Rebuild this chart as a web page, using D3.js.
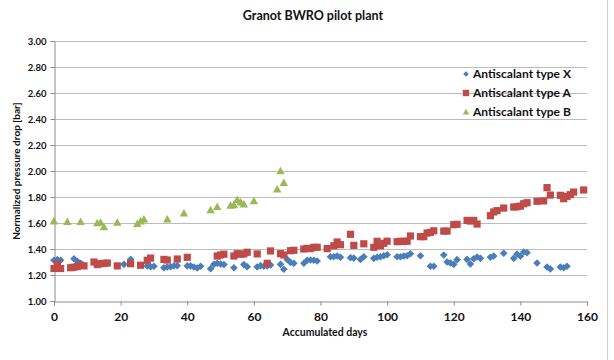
<!DOCTYPE html>
<html><head><meta charset="utf-8">
<script src="https://cdn.jsdelivr.net/npm/d3@7"></script>
<style>
html,body{margin:0;padding:0;background:#fff;}
svg text{font-family:Lato,"Open Sans",sans-serif;font-weight:bold;fill:#111;}
</style></head>
<body><svg id="c" width="614" height="360"></svg>
<script>
const titleText = "Granot BWRO pilot plant";
const xTitle = "Accumulated days";
const yTitle = "Normalized pressure drop [bar]";
const xTicks = [0,20,40,60,80,100,120,140,160];
const yTicks = [1.0,1.2,1.4,1.6,1.8,2.0,2.2,2.4,2.6,2.8,3.0];
const seriesNames = ["Antiscalant type X","Antiscalant type A","Antiscalant type B"];
const seriesColors = ["#4A7EBB","#BE4B48","#98B954"];

const typeX = [[0,1.313],[1,1.318],[2,1.313],[6,1.325],[7,1.305],[8,1.29],[21,1.282],[23,1.32],[28,1.27],[29,1.264],[30,1.267],
[33,1.256],[34,1.262],[35,1.264],[36,1.27],[37,1.272],[40,1.27],[41,1.27],[42,1.262],[43,1.254],[44,1.267],[47,1.248],[48,1.282],
[49,1.29],[50,1.285],[51,1.28],[54,1.256],[57,1.28],[58,1.264],[61,1.262],[62,1.272],[63,1.267],[64,1.27],[65,1.277],[68,1.282],
[69,1.244],[70,1.32],[71,1.297],[72,1.29],[75,1.29],[76,1.313],[77,1.315],[78,1.313],[79,1.308],[83,1.34],[84,1.34],[85,1.346],
[86,1.336],[89,1.333],[90,1.33],[92,1.32],[93,1.34],[96,1.328],[97,1.336],[98,1.34],[99,1.348],[100,1.356],[103,1.34],[104,1.34],
[105,1.346],[106,1.348],[107,1.364],[110,1.348],[113,1.267],[114,1.267],[117,1.354],[118,1.30],[119,1.292],[120,1.282],[121,1.318],
[124,1.32],[125,1.285],[126,1.325],[127,1.338],[128,1.328],[131,1.336],[132,1.346],[135,1.367],[138,1.328],[139,1.362],[140,1.344],
[141,1.377],[142,1.372],[145,1.292],[148,1.262],[149,1.246],[152,1.262],[153,1.256],[154,1.267]];

const typeA = [[0,1.25],[1,1.285],[2,1.25],[5,1.256],[6,1.26],[7,1.265],[8,1.275],[9,1.27],[12,1.30],[13,1.28],[14,1.287],[15,1.29],
[16,1.292],[19,1.27],[23,1.287],[26,1.275],[28,1.313],[29,1.33],[33,1.32],[34,1.315],[37,1.323],[40,1.336],[49,1.346],[50,1.354],
[51,1.36],[54,1.346],[55,1.364],[56,1.36],[57,1.362],[58,1.375],[61,1.362],[64,1.29],[65,1.385],[68,1.364],[69,1.354],[71,1.387],
[72,1.39],[75,1.40],[76,1.405],[77,1.403],[78,1.413],[79,1.413],[82,1.403],[84,1.425],[85,1.454],[86,1.433],[89,1.513],[90,1.428],
[93,1.44],[96,1.413],[97,1.459],[98,1.425],[99,1.444],[100,1.46],[103,1.456],[104,1.459],[105,1.459],[106,1.46],[107,1.50],[110,1.495],
[111,1.495],[112,1.523],[113,1.528],[114,1.54],[117,1.538],[118,1.538],[120,1.587],[121,1.59],[124,1.62],[125,1.615],[126,1.62],
[127,1.592],[131,1.656],[132,1.685],[133,1.695],[135,1.715],[138,1.723],[139,1.725],[140,1.73],[141,1.748],[142,1.756],[145,1.767],
[147,1.77],[148,1.872],[149,1.815],[152,1.813],[153,1.787],[154,1.805],[155,1.818],[156,1.838],[159,1.854]];

const typeB = [[0,1.615],[4,1.61],[8,1.61],[13,1.60],[14,1.605],[15,1.57],[19,1.605],[25,1.595],[26,1.615],[27,1.63],[34,1.63],
[39,1.675],[47,1.70],[49,1.725],[53,1.735],[54,1.74],[55,1.78],[56,1.76],[57,1.745],[60,1.77],[67,1.86],[68,2.00],[69,1.91]];

const svg = d3.select("#c");
const L = 54, R = 587, T = 41, B = 301;
const x = d3.scaleLinear().domain([0,160]).range([L,R]);
const y = d3.scaleLinear().domain([1,3]).range([B,T]);

// chart border right
svg.append("line").attr("x1",607.5).attr("x2",607.5).attr("y1",0).attr("y2",360).attr("stroke","#d0d0d0");

// gridlines
svg.append("g").selectAll("line").data(yTicks.filter(d=>d>1)).join("line")
  .attr("x1",L).attr("x2",R).attr("y1",d=>Math.round(y(d))+0.5).attr("y2",d=>Math.round(y(d))+0.5)
  .attr("stroke","#bcbcbc").attr("stroke-width",1);

// axes
const xAxis = d3.axisBottom(x).tickValues(xTicks).tickSize(4).tickFormat(d3.format("d"));
const gx = svg.append("g").attr("transform",`translate(0,${B+0.5})`).call(xAxis);
gx.select(".domain").attr("stroke","#8c8c8c");
gx.selectAll(".tick line").attr("stroke","#8c8c8c");
gx.selectAll("text").attr("font-size","12px").attr("dy","1.05em").attr("fill","#111");

const yAxis = d3.axisLeft(y).tickValues(yTicks).tickSize(4).tickFormat(d3.format(".2f"));
const gy = svg.append("g").attr("transform",`translate(${L+0.5},0)`).call(yAxis);
gy.select(".domain").attr("stroke","#8c8c8c");
gy.selectAll(".tick line").attr("stroke","#8c8c8c");
gy.selectAll("text").attr("font-size","9.5px").attr("x",-8).attr("fill","#111");

// titles
svg.append("text").attr("x",313).attr("y",20).attr("text-anchor","middle").attr("font-size","12.5px").text(titleText);
svg.append("text").attr("x",325).attr("y",336).attr("text-anchor","middle").attr("font-size","10.5px").text(xTitle);
svg.append("text").attr("transform","translate(20,171) rotate(-90)").attr("text-anchor","middle").attr("font-size","10px").text(yTitle);

// marker shapes
const diamond = r => `M0,${-r}L${r},0L0,${r}L${-r},0Z`;
const square = r => `M${-r},${-r}H${r}V${r}H${-r}Z`;
const triangle = r => `M0,${-r}L${r},${r*0.8}L${-r},${r*0.8}Z`;
const shapes = [diamond(3.8), square(3.6), triangle(4.2)];
const shapesLegend = [diamond(2.8), square(3.2), triangle(3.2)];
const allSeries = [typeX, typeA, typeB];

allSeries.forEach((s,i)=>{
  svg.append("g").selectAll("path").data(s).join("path")
    .attr("transform",d=>`translate(${x(d[0])},${y(d[1])})`)
    .attr("d",shapes[i]).attr("fill",seriesColors[i]);
});

// legend
const legY = [74,93,112];
seriesNames.forEach((n,i)=>{
  svg.append("path").attr("transform",`translate(466,${legY[i]})`).attr("d",shapesLegend[i]).attr("fill",seriesColors[i]);
  svg.append("text").attr("x",473).attr("y",legY[i]).attr("dy","0.35em").attr("font-size","12px").text(n);
});
</script></body></html>
